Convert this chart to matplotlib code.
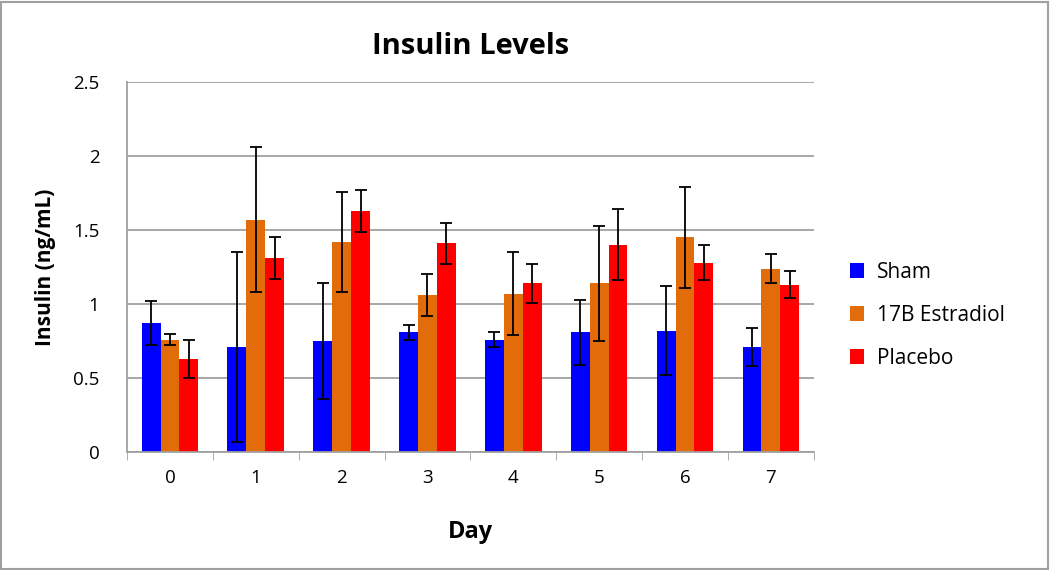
import numpy as np
import matplotlib.pyplot as plt
from matplotlib.patches import Rectangle

plt.rcParams['font.family'] = ['Open Sans', 'DejaVu Sans']

# Data
days = ['0', '1', '2', '3', '4', '5', '6', '7']
sham = [0.87, 0.71, 0.75, 0.81, 0.76, 0.81, 0.82, 0.71]
sham_err = [0.15, 0.64, 0.39, 0.05, 0.05, 0.22, 0.30, 0.13]
estradiol = [0.76, 1.57, 1.42, 1.06, 1.07, 1.14, 1.45, 1.24]
estradiol_err = [0.04, 0.49, 0.34, 0.14, 0.28, 0.39, 0.34, 0.10]
placebo = [0.63, 1.31, 1.63, 1.41, 1.14, 1.40, 1.28, 1.13]
placebo_err = [0.13, 0.14, 0.14, 0.14, 0.13, 0.24, 0.12, 0.09]

series = [('Sham', sham, sham_err, '#0000ff'),
          ('17B Estradiol', estradiol, estradiol_err, '#e36c0a'),
          ('Placebo', placebo, placebo_err, '#ff0000')]

fig = plt.figure(figsize=(10.5, 5.7), dpi=100)
fig.patches.append(Rectangle((0.001, 0.002), 0.997, 0.995, transform=fig.transFigure,
                             fill=False, edgecolor='#a0a0a0', linewidth=1.5))
ax = fig.add_axes([0.121, 0.207, 0.654, 0.649])

x = np.arange(len(days))
w = 0.22
for i, (name, vals, errs, col) in enumerate(series):
    ax.bar(x + (i - 1) * w, vals, w, color=col, label=name, zorder=2,
           yerr=errs, error_kw=dict(ecolor='black', elinewidth=1.3, capsize=4, capthick=1.3))

ax.set_xlim(-0.5, len(days) - 0.5)
ax.set_ylim(0, 2.5)
ax.set_yticks(np.arange(0, 2.51, 0.5))
ax.set_yticklabels(['0', '0.5', '1', '1.5', '2', '2.5'])
ax.set_xticks(x)
ax.set_xticklabels(days)
ax.set_xticks(np.arange(-0.5, len(days), 1), minor=True)
ax.tick_params(axis='x', which='major', length=0, pad=12, labelsize=13.5)
ax.tick_params(axis='x', which='minor', length=6, color='#a0a0a0')
ax.tick_params(axis='y', length=0, pad=20, labelsize=13.5)
ax.grid(axis='y', color='#a0a0a0', linewidth=1.3, zorder=0)
ax.set_axisbelow(True)
for s in ['top', 'right']:
    ax.spines[s].set_visible(False)
for s in ['left', 'bottom']:
    ax.spines[s].set_color('#a0a0a0')
    ax.spines[s].set_linewidth(1.3)

ax.set_title('Insulin Levels', fontsize=21, fontweight='bold', pad=20)
ax.set_ylabel('Insulin (ng/mL)', fontsize=15, fontweight='bold', labelpad=12)
ax.set_xlabel('Day', fontsize=17, fontweight='bold', labelpad=24)

ax.legend(loc='center left', bbox_to_anchor=(1.025, 0.37), frameon=False,
          fontsize=15, handlelength=0.7, handleheight=0.7, labelspacing=1.05,
          handletextpad=0.6)

fig.savefig('out.png', dpi=100)
